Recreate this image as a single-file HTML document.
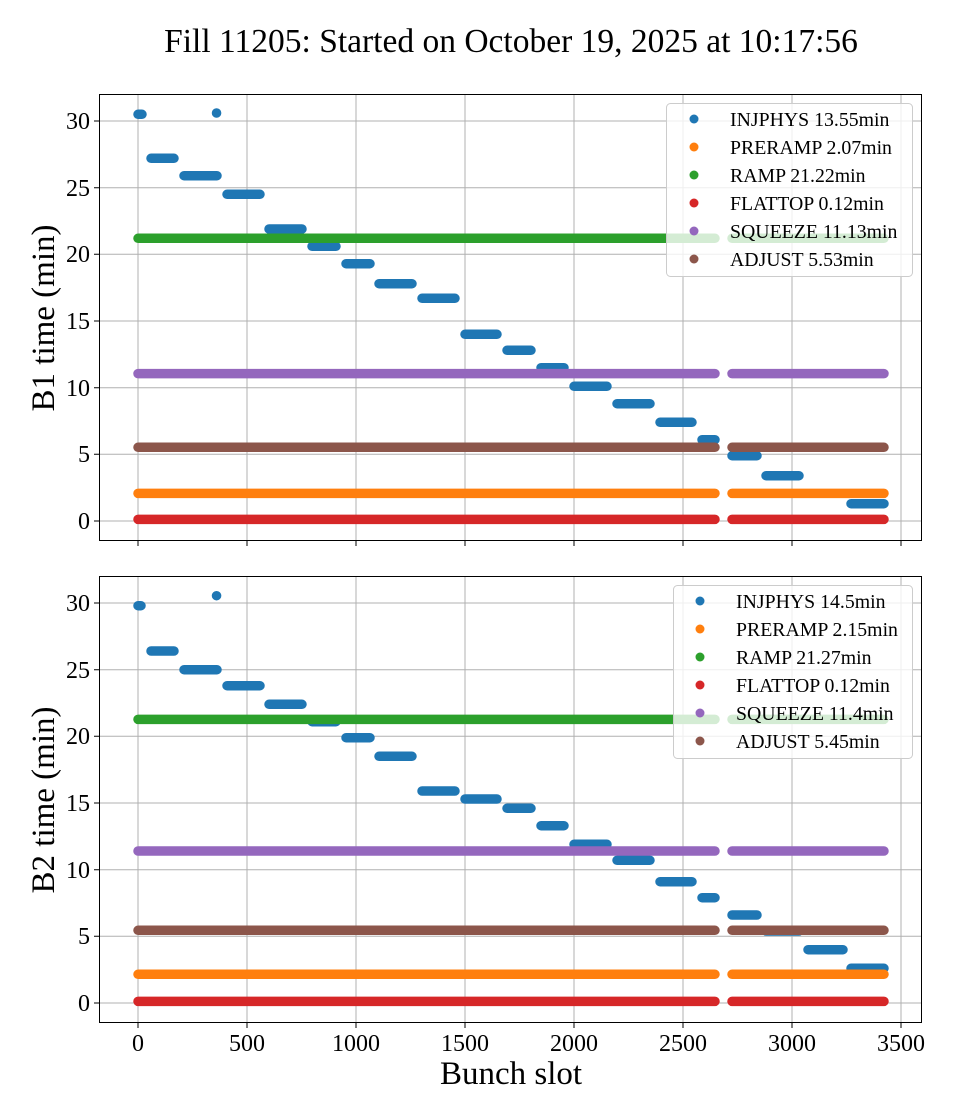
<!DOCTYPE html>
<html><head><meta charset="utf-8"><style>
html,body{margin:0;padding:0;background:#fff}
svg{display:block;font-family:"Liberation Serif","DejaVu Serif",serif}
</style></head><body>
<svg width="960" height="1120" viewBox="0 0 960 1120" xmlns="http://www.w3.org/2000/svg">
<rect width="960" height="1120" fill="#fff"/>
<text x="511" y="52" font-size="33.5" text-anchor="middle">Fill 11205: Started on October 19, 2025 at 10:17:56</text>

<!-- TOP AXES -->
<g stroke="#b0b0b0" stroke-width="1">
<path d="M138 94V541M247 94V541M356 94V541M465 94V541M574 94V541M683 94V541M792 94V541M901 94V541"/>
<path d="M99 521H922M99 454.3H922M99 387.7H922M99 321H922M99 254.3H922M99 187.7H922M99 121H922"/>
</g>
<g fill="none" stroke-width="9.5" stroke-linecap="round">
<path stroke="#1f77b4" d="M138 114.3H142M151 158.3H174M184 175.7H217M227 194.3H260M269 229H302M312 246.3H336M346 263.7H370M379 283.7H412M422 298.3H455M465 334.3H497M507 350.3H531M541 367.7H564M574 386.3H607M617 403.7H650M660 422.3H692M702 439.7H715M732 455.7H757M766 475.7H799M851 503.7H884M216.5 113H216.6"/>
<path stroke="#ff7f0e" d="M138 493.4H715M732 493.4H884"/>
<path stroke="#2ca02c" d="M138 238.3H715M732 238.3H884"/>
<path stroke="#d62728" d="M138 519.4H715M732 519.4H884"/>
<path stroke="#9467bd" d="M138 373.6H715M732 373.6H884"/>
<path stroke="#8c564b" d="M138 447.3H715M732 447.3H884"/>
</g>
<rect x="99.5" y="94.5" width="822" height="446" fill="none" stroke="#000" stroke-width="1"/>
<g stroke="#000" stroke-width="1">
<path d="M94 521H99M94 454.3H99M94 387.7H99M94 321H99M94 254.3H99M94 187.7H99M94 121H99"/>
<path d="M138 541V546M247 541V546M356 541V546M465 541V546M574 541V546M683 541V546M792 541V546M901 541V546"/>
</g>
<g font-size="24" text-anchor="end">
<text x="90" y="529">0</text><text x="90" y="462">5</text><text x="90" y="396">10</text><text x="90" y="329">15</text><text x="90" y="262">20</text><text x="90" y="196">25</text><text x="90" y="129">30</text>
</g>
<text transform="translate(54,318) rotate(-90)" font-size="33" text-anchor="middle">B1 time (min)</text>
<rect x="666.5" y="103.5" width="246" height="173" rx="4" fill="#fff" fill-opacity="0.8" stroke="#ccc"/>
<g font-size="19.8">
<circle cx="694" cy="119" r="4.5" fill="#1f77b4"/><text x="730" y="126">INJPHYS 13.55min</text>
<circle cx="694" cy="147" r="4.5" fill="#ff7f0e"/><text x="730" y="154">PRERAMP 2.07min</text>
<circle cx="694" cy="175" r="4.5" fill="#2ca02c"/><text x="730" y="182">RAMP 21.22min</text>
<circle cx="694" cy="203" r="4.5" fill="#d62728"/><text x="730" y="210">FLATTOP 0.12min</text>
<circle cx="694" cy="231" r="4.5" fill="#9467bd"/><text x="730" y="238">SQUEEZE 11.13min</text>
<circle cx="694" cy="259" r="4.5" fill="#8c564b"/><text x="730" y="266">ADJUST 5.53min</text>
</g>

<!-- BOTTOM AXES -->
<g stroke="#b0b0b0" stroke-width="1">
<path d="M138 576V1023M247 576V1023M356 576V1023M465 576V1023M574 576V1023M683 576V1023M792 576V1023M901 576V1023"/>
<path d="M99 1003H922M99 936.3H922M99 869.7H922M99 803H922M99 736.3H922M99 669.7H922M99 603H922"/>
</g>
<g fill="none" stroke-width="9.5" stroke-linecap="round">
<path stroke="#1f77b4" d="M138 605.7H141M151 651H174M184 669.7H217M227 685.7H260M269 704.3H302M312 721.7H336M346 737.7H370M379 756.3H412M422 791H455M465 799H497M507 808.3H531M541 825.7H564M574 844.3H607M617 860.3H650M660 881.7H692M702 897.7H715M732 915H757M766 931H799M808 949.7H843M851 968.3H884M216.5 595.7H216.6"/>
<path stroke="#ff7f0e" d="M138 974.3H715M732 974.3H884"/>
<path stroke="#2ca02c" d="M138 719.4H715M732 719.4H884"/>
<path stroke="#d62728" d="M138 1001.4H715M732 1001.4H884"/>
<path stroke="#9467bd" d="M138 851H715M732 851H884"/>
<path stroke="#8c564b" d="M138 930.3H715M732 930.3H884"/>
</g>
<rect x="99.5" y="576.5" width="822" height="446" fill="none" stroke="#000" stroke-width="1"/>
<g stroke="#000" stroke-width="1">
<path d="M94 1003H99M94 936.3H99M94 869.7H99M94 803H99M94 736.3H99M94 669.7H99M94 603H99"/>
<path d="M138 1023V1028M247 1023V1028M356 1023V1028M465 1023V1028M574 1023V1028M683 1023V1028M792 1023V1028M901 1023V1028"/>
</g>
<g font-size="24" text-anchor="end">
<text x="90" y="1011">0</text><text x="90" y="944">5</text><text x="90" y="878">10</text><text x="90" y="811">15</text><text x="90" y="744">20</text><text x="90" y="678">25</text><text x="90" y="611">30</text>
</g>
<g font-size="24" text-anchor="middle">
<text x="138" y="1051">0</text><text x="247" y="1051">500</text><text x="356" y="1051">1000</text><text x="465" y="1051">1500</text><text x="574" y="1051">2000</text><text x="683" y="1051">2500</text><text x="792" y="1051">3000</text><text x="901" y="1051">3500</text>
</g>
<text x="511" y="1084" font-size="33" text-anchor="middle">Bunch slot</text>
<text transform="translate(54,800) rotate(-90)" font-size="33" text-anchor="middle">B2 time (min)</text>
<rect x="673.5" y="585.5" width="239" height="173" rx="4" fill="#fff" fill-opacity="0.8" stroke="#ccc"/>
<g font-size="19.8">
<circle cx="700" cy="601" r="4.5" fill="#1f77b4"/><text x="736" y="608">INJPHYS 14.5min</text>
<circle cx="700" cy="629" r="4.5" fill="#ff7f0e"/><text x="736" y="636">PRERAMP 2.15min</text>
<circle cx="700" cy="657" r="4.5" fill="#2ca02c"/><text x="736" y="664">RAMP 21.27min</text>
<circle cx="700" cy="685" r="4.5" fill="#d62728"/><text x="736" y="692">FLATTOP 0.12min</text>
<circle cx="700" cy="713" r="4.5" fill="#9467bd"/><text x="736" y="720">SQUEEZE 11.4min</text>
<circle cx="700" cy="741" r="4.5" fill="#8c564b"/><text x="736" y="748">ADJUST 5.45min</text>
</g>
</svg>
</body></html>
